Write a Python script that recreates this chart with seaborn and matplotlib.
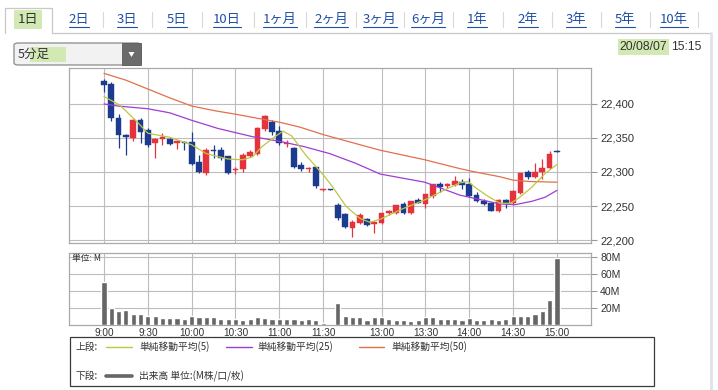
import matplotlib
matplotlib.use("Agg")
import matplotlib.pyplot as plt
import seaborn as sns
import numpy as np
from matplotlib.patches import Rectangle, FancyBboxPatch, Polygon
from matplotlib.lines import Line2D
from matplotlib.ticker import FuncFormatter, FixedLocator

# ---------------- data ----------------
bar_idx = list(range(63))
opens = [22434, 22430, 22379, 22355, 22350, 22376, 22362, 22342, 22348, 22348,
         22342, 22344, 22344, 22315, 22298, 22333, 22332, 22323, 22303, 22304,
         22324, 22327, 22363, 22373, 22361, 22341, 22335, 22311, 22304, 22307,
         22273, 22274, 22251, 22238, 22217, 22225, 22231, 22224, 22225, 22240,
         22240, 22253, 22240, 22259, 22253, 22264, 22283, 22280, 22281, 22286,
         22282, 22266, 22258, 22254, 22243, 22259, 22254, 22269, 22300, 22292,
         22300, 22306, 22331]
highs = [22437, 22432, 22385, 22356, 22378, 22379, 22365, 22350, 22357, 22350,
         22347, 22345, 22359, 22325, 22335, 22340, 22337, 22324, 22308, 22328,
         22332, 22366, 22384, 22376, 22367, 22347, 22337, 22315, 22308, 22308,
         22275, 22275, 22255, 22240, 22229, 22240, 22233, 22228, 22240, 22244,
         22252, 22256, 22258, 22262, 22268, 22283, 22285, 22284, 22294, 22289,
         22291, 22271, 22260, 22256, 22261, 22261, 22273, 22299, 22303, 22313,
         22319, 22331, 22332]
lows = [22418, 22375, 22335, 22325, 22345, 22342, 22337, 22320, 22340, 22340,
        22334, 22332, 22310, 22298, 22296, 22320, 22318, 22297, 22297, 22300,
        22322, 22325, 22361, 22355, 22340, 22337, 22306, 22302, 22300, 22277,
        22272, 22273, 22230, 22217, 22204, 22223, 22220, 22210, 22223, 22237,
        22238, 22238, 22238, 22254, 22247, 22262, 22271, 22277, 22280, 22275,
        22263, 22256, 22251, 22242, 22241, 22247, 22252, 22267, 22290, 22291,
        22289, 22304, 22330]
closes = [22428, 22379, 22354, 22352, 22377, 22359, 22340, 22348, 22351, 22341,
          22345, 22342, 22312, 22300, 22333, 22331, 22321, 22299, 22305, 22325,
          22330, 22364, 22382, 22359, 22342, 22343, 22308, 22304, 22306, 22280,
          22274, 22273, 22232, 22219, 22227, 22237, 22222, 22226, 22239, 22242,
          22251, 22240, 22257, 22255, 22267, 22282, 22278, 22282, 22287, 22281,
          22265, 22258, 22253, 22243, 22259, 22254, 22272, 22298, 22292, 22300,
          22306, 22327, 22330]
volumes = [50.6, 20.0, 16.0, 17.3, 13.0, 13.0, 10.6, 10.6, 8.6, 8.2,
           8.6, 7.5, 10.6, 9.8, 9.0, 9.0, 6.7, 7.5, 7.5, 6.3,
           7.0, 9.8, 8.2, 6.7, 6.7, 7.5, 6.7, 5.5, 6.7, 6.3,
           2.0, 0.0, 25.9, 10.6, 9.4, 9.4, 6.3, 9.4, 9.4, 7.0,
           6.3, 5.5, 5.1, 6.3, 9.4, 9.4, 7.0, 7.0, 7.0, 6.3,
           8.6, 6.3, 6.3, 7.0, 6.3, 7.5, 10.6, 10.6, 10.6, 13.0,
           16.0, 29.8, 79.2]

ma5_x = [0, 2.2, 4.5, 6, 9, 12, 14, 17, 19, 20.3, 21.6, 23.4, 24.5, 25.7, 27.6, 30,
         31.3, 33.1, 35, 36.4, 37.9, 40.9, 43.9, 46.9, 48.7, 49.8, 51.1, 52.6, 54.2,
         55.6, 56.7, 58.6, 60.4, 62]
ma5_v = [22411, 22398, 22374, 22357, 22351, 22340, 22327, 22319, 22318, 22322, 22337,
         22352, 22360, 22353, 22325, 22296, 22278, 22250, 22232, 22226, 22231, 22246,
         22259, 22275, 22284, 22286, 22275, 22264, 22254, 22254, 22261, 22278, 22298, 22311]
ma25_x = [0, 1.9, 6, 9, 12, 15.6, 20.3, 24.1, 27.5, 30.9, 34.4, 37.8, 43.9, 48.7, 50.8,
          54.2, 56.3, 58.6, 60.4, 62]
ma25_v = [22400, 22397, 22393, 22387, 22376, 22364, 22352, 22345, 22337, 22327, 22313,
          22297, 22285, 22266, 22261, 22253, 22252, 22257, 22263, 22273]
ma50_x = [0, 3, 6, 9, 12, 15.2, 18, 21, 24.1, 26.8, 30, 33.7, 37.8, 43.9, 48.7, 50.8,
          54.2, 56, 58.3, 62]
ma50_v = [22445, 22435, 22422, 22409, 22397, 22390, 22385, 22379, 22373, 22366, 22355,
          22344, 22332, 22318, 22305, 22300, 22293, 22288, 22286, 22285]

time_tick_pos = [0, 6, 12, 18, 24, 30, 38, 44, 50, 56, 62]
time_tick_labels = ["9:00", "9:30", "10:00", "10:30", "11:00", "11:30",
                    "13:00", "13:30", "14:00", "14:30", "15:00"]
price_ticks = [22200, 22250, 22300, 22350, 22400]
vol_ticks = [20, 40, 60, 80]
vol_tick_labels = ["20M", "40M", "60M", "80M"]

tab_labels = ["1日", "2日", "3日", "5日", "10日", "1ヶ月", "2ヶ月", "3ヶ月", "6ヶ月",
              "1年", "2年", "3年", "5年", "10年"]
legend_labels = ["単純移動平均(5)", "単純移動平均(25)", "単純移動平均(50)"]
vol_legend_label = "出来高 単位:(M株/口/枚)"

# ---------------- style ----------------
sns.set_style("white")
plt.rcParams['font.family'] = ['Liberation Sans', 'Noto Sans CJK JP', 'DejaVu Sans']
CJK = ['Noto Sans CJK JP', 'Liberation Sans', 'DejaVu Sans']

UP = "#e5323d"
DOWN = "#1c3b8e"
C_MA5 = "#bcc840"
C_MA25 = "#a03cd2"
C_MA50 = "#e2704c"
GRID = "#bdbdbd"
FRAME = "#a9a9a9"
TXT = "#333333"
LINK = "#1f4fa8"
HILITE = "#d3e9b3"

W, H = 718, 390
fig = plt.figure(figsize=(W / 100, H / 100), dpi=100)
fig.patch.set_facecolor("white")


def fx(x):
    return x / W


def fy(y):
    return 1 - y / H


def axes_px(l, t, r, b):
    return fig.add_axes([l / W, 1 - b / H, (r - l) / W, (b - t) / H])


XLIM = (-4.79, 66.66)

# ---------------- price panel ----------------
ax = axes_px(69, 68, 591, 243)
ax.set_xlim(*XLIM)
ax.set_ylim(22195.6, 22452.9)

for i, o, h, l, c in zip(bar_idx, opens, highs, lows, closes):
    col = UP if c >= o else DOWN
    ax.vlines(i, l, h, color=col, lw=0.9, zorder=3)
    bottom = min(o, c)
    height = max(abs(c - o), 1.3)
    ax.bar(i, height, bottom=bottom, width=0.78, color=col, edgecolor=col, lw=0.3, zorder=4)

sns.lineplot(x=ma50_x, y=ma50_v, ax=ax, color=C_MA50, linewidth=0.9, zorder=5)
sns.lineplot(x=ma25_x, y=ma25_v, ax=ax, color=C_MA25, linewidth=0.9, zorder=5)
sns.lineplot(x=ma5_x, y=ma5_v, ax=ax, color=C_MA5, linewidth=0.9, zorder=5)

ax.xaxis.set_major_locator(FixedLocator(time_tick_pos))
ax.yaxis.set_major_locator(FixedLocator(price_ticks))
ax.yaxis.set_major_formatter(FuncFormatter(lambda v, p: f"{int(v):,}"))
ax.yaxis.tick_right()
ax.grid(True, color=GRID, lw=0.8, zorder=0)
ax.set_axisbelow(True)
ax.tick_params(axis='x', length=0, labelbottom=False)
ax.tick_params(axis='y', which='both', right=True, left=False, length=4.5, width=0.8,
               color="#999999", labelsize=8, labelcolor=TXT, pad=2)
ax.set_xlabel("")
ax.set_ylabel("")
for s in ax.spines.values():
    s.set_color(FRAME)
    s.set_linewidth(0.9)

# ---------------- volume panel ----------------
axv = axes_px(69, 253, 591, 325)
axv.set_xlim(*XLIM)
axv.set_ylim(0, 84.7)
axv.bar(bar_idx, volumes, width=0.7, color="#666666", zorder=3)
axv.xaxis.set_major_locator(FixedLocator(time_tick_pos))
axv.set_xticklabels(time_tick_labels)
axv.yaxis.set_major_locator(FixedLocator(vol_ticks))
axv.set_yticklabels(vol_tick_labels)
axv.yaxis.tick_right()
axv.grid(True, color=GRID, lw=0.8, zorder=0)
axv.set_axisbelow(True)
axv.tick_params(axis='x', length=0, labelsize=7.2, labelcolor=TXT, pad=2)
axv.tick_params(axis='y', right=True, left=False, length=4.5, width=0.8,
                color="#999999", labelsize=7.6, labelcolor=TXT, pad=2)
for s in axv.spines.values():
    s.set_color(FRAME)
    s.set_linewidth(0.9)
fig.text(fx(72), fy(258), "単位: M", fontsize=6.3, color=TXT, ha='left', va='center', family=CJK)

# ---------------- header ----------------
renderer = fig.canvas.get_renderer()
fig.add_artist(Line2D([fx(52), fx(711)], [fy(32.5)] * 2, color="#c8c8c8", lw=0.9))
fig.add_artist(Line2D([fx(5), fx(5), fx(52), fx(52)], [fy(32.5), fy(8), fy(8), fy(32.5)],
                      color="#c8c8c8", lw=0.9))
tab_centers = [28, 79, 127, 177, 227, 280, 331, 380, 428, 477, 528, 576, 625, 674]
for k, (cx, lab) in enumerate(zip(tab_centers, tab_labels)):
    if k == 0:
        fig.text(fx(cx), fy(19.5), lab, ha='center', va='center', fontsize=9.5, color=TXT,
                 family=CJK, bbox=dict(boxstyle="square,pad=0.25", fc=HILITE, ec="none"))
        continue
    t = fig.text(fx(cx), fy(19.5), lab, ha='center', va='center', fontsize=9.5, color=LINK,
                 family=CJK)
    bb = t.get_window_extent(renderer)
    fig.add_artist(Line2D([bb.x0 / W, bb.x1 / W], [fy(26.8)] * 2, color=LINK, lw=0.8))
    if k < len(tab_labels) - 1:
        sx = (cx + tab_centers[k + 1]) / 2
        fig.add_artist(Line2D([fx(sx)] * 2, [fy(12), fy(27)], color="#d8d8d8", lw=0.8))
fig.add_artist(Line2D([fx(698)] * 2, [fy(12), fy(27)], color="#d8d8d8", lw=0.8))

# dropdown
dd = FancyBboxPatch((fx(14), fy(65)), fx(127), 22 / H, boxstyle="round,pad=0,rounding_size=0.006",
                    transform=fig.transFigure, fc="#f2f2f2", ec="#8a8a8a", lw=0.9)
fig.add_artist(dd)
fig.add_artist(Rectangle((fx(122), fy(65)), fx(19), 22 / H, transform=fig.transFigure,
                         fc="#6b6b6b", ec="#5a5a5a", lw=0.6))
fig.add_artist(Polygon([[fx(128.5), fy(52)], [fx(134.5), fy(52)], [fx(131.5), fy(57)]],
                       closed=True, transform=fig.transFigure, fc="white", ec="none"))
fig.add_artist(Rectangle((fx(30), fy(62)), fx(36), 15 / H, transform=fig.transFigure,
                         fc=HILITE, ec="none"))
fig.text(fx(18), fy(54.5), "5分足", ha='left', va='center', fontsize=9, color=TXT, family=CJK)

# date
fig.text(fx(667), fy(47), "20/08/07", ha='right', va='center', fontsize=8.7, color=TXT,
         bbox=dict(boxstyle="square,pad=0.15", fc=HILITE, ec="none"))
fig.text(fx(671), fy(47), "15:15", ha='left', va='center', fontsize=8.7, color=TXT)

# right border
fig.add_artist(Line2D([fx(711)] * 2, [fy(33), fy(390)], color="#dfe3ea", lw=2.0))

# ---------------- legend box ----------------
fig.add_artist(Rectangle((fx(70), fy(385.5)), fx(584), 48.5 / H, transform=fig.transFigure,
                         fc="none", ec="#3a3a3a", lw=0.9))
row1, row2 = 347, 376
fig.text(fx(76), fy(row1), "上段:", ha='left', va='center', fontsize=7, color=TXT, family=CJK)
fig.text(fx(76), fy(row2), "下段:", ha='left', va='center', fontsize=7, color=TXT, family=CJK)
leg_items = [(106, 132, 139, C_MA5), (226, 252, 257, C_MA25), (359, 384, 391, C_MA50)]
for (x0, x1, tx, col), lab in zip(leg_items, legend_labels):
    fig.add_artist(Line2D([fx(x0), fx(x1)], [fy(row1)] * 2, color=col, lw=1.0))
    fig.text(fx(tx), fy(row1), lab, ha='left', va='center', fontsize=7, color=TXT, family=CJK)
fig.add_artist(Line2D([fx(106), fx(132)], [fy(row2)] * 2, color="#666666", lw=2.6))
fig.text(fx(139), fy(row2), vol_legend_label, ha='left', va='center', fontsize=7, color=TXT,
         family=CJK)

fig.savefig("out.png", dpi=100)
